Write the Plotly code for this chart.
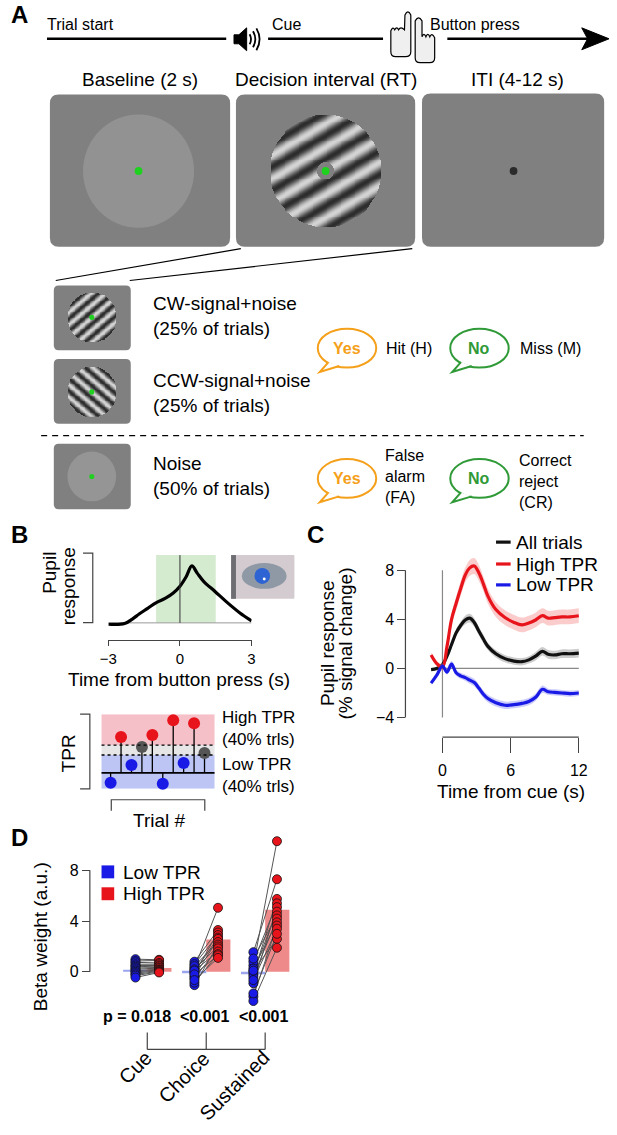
import numpy as np
import plotly.graph_objects as go

W, H = 617, 1135
FONT = "Liberation Sans, Arial, sans-serif"

# ---------------- data ----------------
# B: schematic pupil response around the button press (normalised units)
pupil_time = [-3.0, -2.32, -1.98, -1.71, -1.37, -0.99, -0.62, -0.28, 0.0, 0.26, 0.5,
              0.73, 1.0, 1.48, 1.95, 2.5, 3.0]
pupil_resp = [-0.02, -0.01, 0.06, 0.13, 0.21, 0.30, 0.36, 0.44, 0.54, 0.68, 0.84,
              0.73, 0.61, 0.46, 0.31, 0.15, 0.03]
decision_window = [-1.0, 1.5]

# B: task-evoked pupil response (TPR) per trial, schematic
trial_num = [1, 2, 3, 4, 5, 6, 7, 8, 9, 10]
trial_tpr = [-10, 36, 8, 26, 38, -11, 53, 10, 50, 20]
tpr_high_cut = 28
tpr_low_cut = 18
tpr_span = [-16, 59]

# C: pupil response (% signal change) vs time from cue
c_time = [-1.0, -0.5, 0.0, 0.4, 0.8, 1.2, 1.6, 2.0, 2.4, 2.8, 3.2, 3.6, 4.0, 4.7, 5.5,
          6.3, 7.0, 7.6, 8.2, 8.8, 9.3, 9.9, 10.5, 11.2, 12.0]
all_mean = [-0.1, 0.0, 0.3, 1.0, 1.95, 2.9, 3.5, 3.95, 4.1, 3.75, 3.05, 2.4, 1.8, 1.2, 0.8,
            0.6, 0.55, 0.7, 1.0, 1.4, 1.15, 1.1, 1.2, 1.2, 1.25]
all_sem = [0.1, 0.1, 0.15, 0.2, 0.25, 0.3, 0.3, 0.35, 0.35, 0.35, 0.35, 0.35, 0.3, 0.3, 0.3,
           0.3, 0.3, 0.3, 0.35, 0.35, 0.35, 0.35, 0.35, 0.35, 0.35]
high_mean = [1.1, 0.4, 0.1, 1.8, 4.0, 5.3, 6.5, 7.6, 8.2, 8.35, 7.8, 6.9, 5.9, 4.8, 4.15,
             3.75, 3.55, 3.7, 3.95, 4.3, 4.1, 4.15, 4.2, 4.2, 4.3]
high_sem = [0.2, 0.2, 0.3, 0.4, 0.5, 0.55, 0.6, 0.6, 0.65, 0.65, 0.65, 0.6, 0.6, 0.6, 0.6,
            0.6, 0.6, 0.6, 0.6, 0.6, 0.6, 0.6, 0.6, 0.6, 0.6]
low_mean = [-1.2, -0.55, 0.2, -0.3, 0.35, -0.35, -0.6, -0.75, -0.95, -1.15, -1.6, -2.1, -2.45,
            -2.8, -3.0, -2.95, -2.85, -2.7, -2.35, -1.7, -1.9, -1.95, -2.0, -2.05, -2.0]
low_sem = [0.15, 0.15, 0.2, 0.2, 0.25, 0.25, 0.25, 0.25, 0.3, 0.3, 0.3, 0.3, 0.3, 0.3, 0.3,
           0.3, 0.3, 0.3, 0.3, 0.3, 0.25, 0.25, 0.25, 0.25, 0.25]

# D: beta weights per subject, low vs high TPR
d_labels = ["Cue", "Choice", "Sustained"]
d_pvals = ["p = 0.018", "<0.001", "<0.001"]
d_low_mean = [0.1, -0.12, -0.2]
d_high_mean = [0.3, 2.55, 4.9]
cue_low = [1.0, 0.85, 0.75, 0.6, 0.5, 0.4, 0.3, 0.2, 0.1, 0.0, -0.1, -0.2, -0.3, -0.45]
cue_high = [0.95, 0.9, 0.7, 0.6, 0.5, 0.45, 0.35, 0.3, 0.2, 0.15, 0.1, 0.05, 0.0, -0.05]
choice_low = [0.3, 0.8, -0.1, 0.6, 0.0, -0.35, 0.45, -1.05, 0.2, -0.5, 0.1, -0.85, -0.2, -0.65]
choice_high = [5.05, 3.3, 3.1, 2.9, 2.7, 2.6, 2.35, 2.15, 2.0, 1.85, 1.6, 1.4, 1.3, 1.1]
sust_low = [0.5, 1.55, -0.2, 0.8, -0.9, 0.0, 1.05, -0.4, 0.25, -1.95, -0.65, 0.1, -2.3, -1.7]
sust_high = [10.3, 7.3, 5.75, 5.4, 5.1, 4.75, 4.45, 4.2, 3.9, 3.65, 3.4, 2.6, 1.9, 3.0]

RED, BLUE, GREY = "#e8141b", "#1a1ae6", "#555555"
ORANGE, GREEN = "#f5a01a", "#2f9a37"

shapes = []
annots = []


def px(x):
    return x / W


def py(y):
    return 1 - y / H


def line(x0, y0, x1, y1, color="black", width=1.0, dash=None):
    shapes.append(dict(type="line", xref="paper", yref="paper", x0=px(x0), y0=py(y0),
                       x1=px(x1), y1=py(y1), line=dict(color=color, width=width, dash=dash)))


def path(cmds, fill=None, color="black", width=1.0, layer="above"):
    parts = []
    for c in cmds:
        nums = c[1:]
        pts = [f"{px(nums[i]):.5f},{py(nums[i + 1]):.5f}" for i in range(0, len(nums), 2)]
        parts.append(c[0] + " ".join(pts))
    shapes.append(dict(type="path", xref="paper", yref="paper", path=" ".join(parts),
                       fillcolor=fill, layer=layer,
                       line=dict(color=color, width=width)))


def rrect(x0, y0, x1, y1, r, fill, layer="below"):
    path([("M", x0 + r, y0), ("L", x1 - r, y0), ("Q", x1, y0, x1, y0 + r), ("L", x1, y1 - r),
          ("Q", x1, y1, x1 - r, y1), ("L", x0 + r, y1), ("Q", x0, y1, x0, y1 - r),
          ("L", x0, y0 + r), ("Q", x0, y0, x0 + r, y0), ("Z",)],
         fill=fill, color=fill, width=0, layer=layer)


def ell(cx, cy, rx, ry, fill, color=None, width=0, layer="above"):
    shapes.append(dict(type="circle", xref="paper", yref="paper", x0=px(cx - rx), x1=px(cx + rx),
                       y0=py(cy + ry), y1=py(cy - ry), fillcolor=fill, layer=layer,
                       line=dict(color=color or fill, width=width)))


def txt(x, y, s, size=19, anchor="left", yanchor="middle", angle=0, color="black", align="left"):
    annots.append(dict(x=px(x), y=py(y), xref="paper", yref="paper", text=s, showarrow=False,
                       xanchor=anchor, yanchor=yanchor, textangle=angle, align=align,
                       font=dict(size=size, color=color, family=FONT)))


def grating(n, angle, period, hole):
    u = np.linspace(-1, 1, n)
    X, Y = np.meshgrid(u, u)
    a = np.deg2rad(angle)
    z = np.cos(2 * np.pi * (-X * np.sin(a) + Y * np.cos(a)) / period)
    r = np.hypot(X, Y)
    z[(r > 1) | (r < hole)] = np.nan
    return u, z


fig = go.Figure()

# ================= Panel A =================
txt(11, 15, "<b>A</b>", size=24, anchor="center")
line(39, 39, 223, 39, width=2.5)
line(266, 39, 384, 39, width=2.5)
line(450, 39, 597, 39, width=2.5)
path([("M", 588, 28), ("L", 616, 39), ("L", 588, 50), ("L", 594, 39), ("Z",)], fill="black", width=1)
txt(37, 25, "Trial start", size=16)
txt(268, 25, "Cue", size=16)
txt(430, 25, "Button press", size=16)
# speaker
path([("M", 231, 35), ("L", 236, 35), ("L", 244, 28), ("L", 244, 51), ("L", 236, 44), ("L", 231, 44), ("Z",)],
     fill="black", width=1)
for a, h in [(247, 5), (250.5, 8), (254, 11)]:
    path([("M", a, 39.5 - h), ("Q", a + h * 0.6, 39.5, a, 39.5 + h)], width=1.8)
# hands
path([("M", 392, 31), ("Q", 394, 26, 396, 30), ("Q", 398, 26, 400, 30), ("Q", 402, 26, 406, 30),
      ("L", 406.5, 15), ("Q", 409.5, 9, 412.5, 15), ("L", 412.5, 52), ("Q", 412.5, 57, 407, 57),
      ("L", 397, 57), ("Q", 392, 57, 392, 52), ("Z",)], fill="#efefef", width=1.2)
path([("M", 417, 58), ("L", 417, 21), ("Q", 420.5, 15, 424, 21), ("L", 424, 37), ("Q", 426, 32, 428, 37),
      ("Q", 430, 32, 432, 37), ("Q", 434, 32, 437, 38), ("L", 437, 58), ("Q", 437, 63, 432, 63),
      ("L", 422, 63), ("Q", 417, 63, 417, 58), ("Z",)], fill="#efefef", width=1.2)

txt(135, 80, "Baseline (2 s)", anchor="center")
txt(325, 80, "Decision interval (RT)", anchor="center")
txt(522, 80, "ITI (4-12 s)", anchor="center")
BOX = "#808080"
rrect(42, 95, 227, 248, 9, BOX)
rrect(233, 95, 417, 248, 9, BOX)
rrect(424, 94, 611, 248, 9, BOX)
ell(133, 172, 57, 57, "#929292", layer="below")
ell(133, 172, 4, 4, "#1fd11f")
ell(325, 172, 4, 4, "#1fd11f")
ell(518, 172, 4, 4, "#2b2b2b")

line(238, 250, 48, 282, width=1.2)
line(414, 250, 124, 282, width=1.2)
rrect(46, 287, 125, 352, 5, BOX)
rrect(46, 361, 125, 426, 5, BOX)
rrect(46, 446, 125, 512, 5, BOX)
ell(85, 479, 25, 25, "#959595", layer="below")
for cy in (319, 394, 479):
    ell(85, cy, 2.6, 2.6, "#1fd11f")
line(33, 438, 590, 438, width=1.3, dash="6px,5px")

txt(146, 318, "CW-signal+noise<br>(25% of trials)")
txt(146, 395, "CCW-signal+noise<br>(25% of trials)")
txt(146, 479, "Noise<br>(50% of trials)")


def bubble(cx, cy, color, word):
    ell(cx, cy, 30, 19.5, "white", color=color, width=2)
    path([("M", cx - 19, cy + 14), ("L", cx - 28, cy + 24), ("L", cx - 8, cy + 18)],
         fill="white", color=color, width=2)
    txt(cx, cy, f"<b>{word}</b>", size=16, anchor="center", color=color)


bubble(347, 350, ORANGE, "Yes")
bubble(483, 350, GREEN, "No")
bubble(347, 481, ORANGE, "Yes")
bubble(483, 481, GREEN, "No")
txt(385, 350, "Hit (H)", size=16)
txt(523, 350, "Miss (M)", size=16)
txt(384, 479, "False<br>alarm<br>(FA)", size=16)
txt(522, 484, "Correct<br>reject<br>(CR)", size=16)

# gratings as small heatmaps
grat_specs = [(325, 172, 57, 30, 0.36, 0.15, 120), (85, 319, 25, 40, 0.38, 0.0, 60),
              (85, 394, 25, 140, 0.38, 0.0, 60)]
layout_axes = {}
for k, (cx, cy, r, ang, per, hole, n) in enumerate(grat_specs):
    ax = 5 + k
    u, z = grating(n, ang, per, hole)
    fig.add_trace(go.Heatmap(x=u, y=u, z=z, zmin=-1, zmax=1, showscale=False, hoverinfo="skip",
                             colorscale=[[0, "#2c2c2c"], [1, "#d4d4d4"]],
                             xaxis=f"x{ax}", yaxis=f"y{ax}"))
    layout_axes[f"xaxis{ax}"] = dict(domain=[px(cx - r), px(cx + r)], range=[-1, 1], visible=False,
                                     anchor=f"y{ax}")
    layout_axes[f"yaxis{ax}"] = dict(domain=[py(cy + r), py(cy - r)], range=[-1, 1], visible=False,
                                     anchor=f"x{ax}")

# ================= Panel B =================
txt(11, 537, "<b>B</b>", size=24, anchor="center")
fig.add_trace(go.Scatter(x=pupil_time, y=pupil_resp, mode="lines", line=dict(color="black", width=3.2),
                         line_shape="spline", hoverinfo="skip", xaxis="x", yaxis="y"))
shapes.append(dict(type="rect", xref="x", yref="y", x0=decision_window[0], x1=decision_window[1],
                   y0=0, y1=1, fillcolor="#d4ebd0", line=dict(width=0), layer="below"))
shapes.append(dict(type="line", xref="x", yref="y", x0=0, x1=0, y0=0, y1=1,
                   line=dict(color="#333", width=1)))
shapes.append(dict(type="line", xref="x", yref="y", x0=-3, x1=3, y0=0, y1=0,
                   line=dict(color="#999", width=1), layer="below"))
# bracket for pupil axis
path([("M", 76, 556), ("L", 86, 556), ("L", 86, 626), ("L", 76, 626)], color="#444", width=1.2)
txt(42, 576, "Pupil", angle=-90, anchor="center")
txt(61, 589, "response", angle=-90, anchor="center")
txt(175, 683, "Time from button press (s)", anchor="center")
# eye photo stand-in
rrect(228, 558, 293, 602, 1, "#d3cbd0", layer="above")
path([("M", 228, 558), ("L", 233, 558), ("L", 233, 602), ("L", 228, 602), ("Z",)], fill="#6d6d72", width=0)
ell(262, 579, 23, 13, "#8f99a6")
ell(260, 579, 8, 8, "#2d63d3")
ell(262, 582, 1.5, 1.5, "white")

# TPR schematic
tpr_colors = [RED if v > tpr_high_cut else (GREY if v >= tpr_low_cut else BLUE) for v in trial_tpr]
stem_x, stem_y = [], []
for t, v in zip(trial_num, trial_tpr):
    stem_x += [t, t, None]
    stem_y += [0, v, None]
fig.add_trace(go.Scatter(x=stem_x, y=stem_y, mode="lines", line=dict(color="black", width=1.3),
                         hoverinfo="skip", xaxis="x2", yaxis="y2"))
fig.add_trace(go.Scatter(x=trial_num, y=trial_tpr, mode="markers", hoverinfo="skip",
                         marker=dict(color=tpr_colors, size=12, line=dict(width=0)),
                         xaxis="x2", yaxis="y2", cliponaxis=False))
for y0, y1, col in [(tpr_high_cut, tpr_span[1], "#f6c0c8"), (tpr_low_cut, tpr_high_cut, "#e6e6e6"),
                    (tpr_span[0], tpr_low_cut, "#bcc5f3")]:
    shapes.append(dict(type="rect", xref="x2 domain", yref="y2", x0=0, x1=1, y0=y0, y1=y1,
                       fillcolor=col, line=dict(width=0), layer="below"))
for yv in (tpr_high_cut, tpr_low_cut):
    shapes.append(dict(type="line", xref="x2 domain", yref="y2", x0=0, x1=1, y0=yv, y1=yv,
                       line=dict(color="black", width=1.3, dash="dot")))
shapes.append(dict(type="line", xref="x2 domain", yref="y2", x0=0, x1=1, y0=0, y1=0,
                   line=dict(color="black", width=1.8)))
path([("M", 73, 718), ("L", 83, 718), ("L", 83, 793), ("L", 73, 793)], color="#444", width=1.2)
txt(62, 757, "TPR", angle=-90, anchor="center", size=19)
txt(217, 732, "High TPR<br>(40% trls)", size=17)
txt(217, 780, "Low TPR<br>(40% trls)", size=17)
path([("M", 105, 815), ("L", 105, 804), ("L", 201, 804), ("L", 201, 815)], color="#444", width=1.2)
txt(155, 825, "Trial #", anchor="center")

# ================= Panel C =================
txt(315, 537, "<b>C</b>", size=24, anchor="center")
for mean, sem, col, band in [(all_mean, all_sem, "#111111", "rgba(110,110,110,0.35)"),
                             (high_mean, high_sem, RED, "rgba(240,110,110,0.35)"),
                             (low_mean, low_sem, BLUE, "rgba(110,110,240,0.35)")]:
    up = [m + s for m, s in zip(mean, sem)]
    lo = [m - s for m, s in zip(mean, sem)]
    fig.add_trace(go.Scatter(x=c_time, y=up, mode="lines", line=dict(width=0), line_shape="spline",
                             hoverinfo="skip", xaxis="x3", yaxis="y3"))
    fig.add_trace(go.Scatter(x=c_time, y=lo, mode="lines", line=dict(width=0), line_shape="spline",
                             fill="tonexty", fillcolor=band, hoverinfo="skip", xaxis="x3", yaxis="y3"))
    fig.add_trace(go.Scatter(x=c_time, y=mean, mode="lines", line=dict(color=col, width=3.2),
                             line_shape="spline", hoverinfo="skip", xaxis="x3", yaxis="y3"))
shapes.append(dict(type="line", xref="x3", yref="y3", x0=0, x1=0, y0=-4, y1=8,
                   line=dict(color="#888", width=1.2), layer="below"))
shapes.append(dict(type="line", xref="x3", yref="y3", x0=0, x1=12, y0=0, y1=0,
                   line=dict(color="#888", width=1.2), layer="below"))
shapes.append(dict(type="line", xref="paper", yref="y3", x0=px(407), x1=px(407), y0=-4, y1=8,
                   line=dict(color="#444", width=1.2)))
shapes.append(dict(type="line", xref="x3", yref="paper", x0=0, x1=12, y0=py(741), y1=py(741),
                   line=dict(color="#444", width=1.2)))
txt(327, 647, "Pupil response", angle=-90, anchor="center")
txt(346, 647, "(% signal change)", angle=-90, anchor="center")
txt(515, 796, "Time from cue (s)", anchor="center")
for yy, lab, col in [(545, "All trials", "#111111"), (567, "High TPR", RED), (588, "Low TPR", BLUE)]:
    line(500, yy, 515, yy, color=col, width=3.2)
    txt(518, yy, lab)

# ================= Panel D =================
txt(11, 842, "<b>D</b>", size=24, anchor="center")
gx = [1, 2, 3]
fig.add_trace(go.Bar(x=[g - 0.205 for g in gx], y=d_low_mean, width=0.41, marker=dict(color="#9ba5ee", line=dict(width=0)),
                     hoverinfo="skip", xaxis="x4", yaxis="y4"))
fig.add_trace(go.Bar(x=[g + 0.205 for g in gx], y=d_high_mean, width=0.41, marker=dict(color="#ef8a8a", line=dict(width=0)),
                     hoverinfo="skip", xaxis="x4", yaxis="y4"))
pair_x, pair_y, lx, ly, hx, hy = [], [], [], [], [], []
for g, lows, highs in [(1, cue_low, cue_high), (2, choice_low, choice_high), (3, sust_low, sust_high)]:
    for a, b in zip(lows, highs):
        pair_x += [g - 0.2, g + 0.2, None]
        pair_y += [a, b, None]
    lx += [g - 0.2] * len(lows)
    ly += lows
    hx += [g + 0.2] * len(highs)
    hy += highs
fig.add_trace(go.Scatter(x=pair_x, y=pair_y, mode="lines", line=dict(color="#555", width=1),
                         hoverinfo="skip", xaxis="x4", yaxis="y4"))
fig.add_trace(go.Scatter(x=lx, y=ly, mode="markers", marker=dict(color=BLUE, size=9, line=dict(color="#111", width=0.8)),
                         hoverinfo="skip", xaxis="x4", yaxis="y4"))
fig.add_trace(go.Scatter(x=hx, y=hy, mode="markers", marker=dict(color=RED, size=9, line=dict(color="#111", width=0.8)),
                         hoverinfo="skip", xaxis="x4", yaxis="y4"))
shapes.append(dict(type="line", xref="paper", yref="y4", x0=px(83), x1=px(83), y0=0, y1=8,
                   line=dict(color="#444", width=1.2)))
txt(32, 942, "Beta weight (a.u.)", angle=-90, anchor="center")
shapes.append(dict(type="rect", xref="paper", yref="paper", x0=px(95), x1=px(108), y0=py(883), y1=py(870),
                   fillcolor=BLUE, line=dict(width=0)))
shapes.append(dict(type="rect", xref="paper", yref="paper", x0=px(95), x1=px(108), y0=py(905), y1=py(892),
                   fillcolor=RED, line=dict(width=0)))
txt(115, 877, "Low TPR")
txt(115, 898, "High TPR")
for g, p, cxp in zip(gx, d_pvals, [131, 201, 261]):
    txt(cxp, 1022, f"<b>{p}</b>", size=16, anchor="center")
    shapes.append(dict(type="line", xref="x4", yref="paper", x0=g, x1=g, y0=py(1038), y1=py(1055),
                       line=dict(color="#444", width=1.2)))
shapes.append(dict(type="line", xref="x4", yref="paper", x0=1, x1=3, y0=py(1055), y1=py(1055),
                   line=dict(color="#444", width=1.2)))
for (cx, cy), lab in zip([(130, 1073), (180, 1083), (232, 1091)], d_labels):
    txt(cx, cy, lab, angle=-45, anchor="center", size=20)

# ---------------- layout ----------------
tick_font = dict(size=16, color="black", family=FONT)
c_x0, c_x1 = -1.2, 12.2
c_y0, c_y1 = -4.2, 9.2
d_y0, d_y1 = -2.8, 10.8
fig.update_layout(
    width=W, height=H, margin=dict(l=0, r=0, t=0, b=0), autosize=False,
    paper_bgcolor="white", plot_bgcolor="rgba(0,0,0,0)", showlegend=False,
    barmode="overlay", font=dict(family=FONT, color="black"),
    xaxis=dict(domain=[px(102), px(249)], range=[-3, 3], anchor="free", position=py(643),
               showline=True, linecolor="#444", linewidth=1.2, ticks="outside", ticklen=5,
               tickcolor="#444", tickvals=[-3, 0, 3], ticktext=["\u22123", "0", "3"],
               tickfont=dict(size=15, color="black", family=FONT), showgrid=False, zeroline=False,
               ticklabelstandoff=0),
    yaxis=dict(domain=[py(633), py(556)], range=[-0.1, 1.03], visible=False),
    xaxis2=dict(domain=[px(95), px(211)], range=[0.13, 10.96], visible=False, anchor="y2"),
    yaxis2=dict(domain=[py(793), py(718)], range=tpr_span, visible=False, anchor="x2"),
    xaxis3=dict(domain=[px(431), px(587.3)], range=[c_x0, c_x1], anchor="free", position=py(741),
                showline=False, ticks="outside", ticklen=15, tickcolor="#444", tickwidth=1.2,
                tickvals=[0, 6, 12], tickfont=tick_font, showgrid=False, zeroline=False,
                ticklabelstandoff=4),
    yaxis3=dict(domain=[py(672 - c_y0 * 12.33), py(672 - c_y1 * 12.33)], range=[c_y0, c_y1],
                anchor="free", position=px(407), showline=False, ticks="outside", ticklen=8,
                tickcolor="#444", tickwidth=1.2, tickvals=[-4, 0, 4, 8],
                ticktext=["\u22124", "0", "4", "8"], tickfont=tick_font, showgrid=False, zeroline=False),
    xaxis4=dict(domain=[px(99.6), px(299.3)], range=[0.3, 3.6], visible=False, anchor="y4"),
    yaxis4=dict(domain=[py(977 - d_y0 * 12.75), py(977 - d_y1 * 12.75)], range=[d_y0, d_y1],
                anchor="free", position=px(83), showline=False, ticks="outside", ticklen=8,
                tickcolor="#444", tickwidth=1.2, tickvals=[0, 4, 8], tickfont=tick_font,
                showgrid=False, zeroline=False),
    shapes=shapes, annotations=annots,
)
fig.update_layout(**layout_axes)
fig.write_html("out.html", config={"displayModeBar": False},
               post_script="document.body.style.margin='0px';")
